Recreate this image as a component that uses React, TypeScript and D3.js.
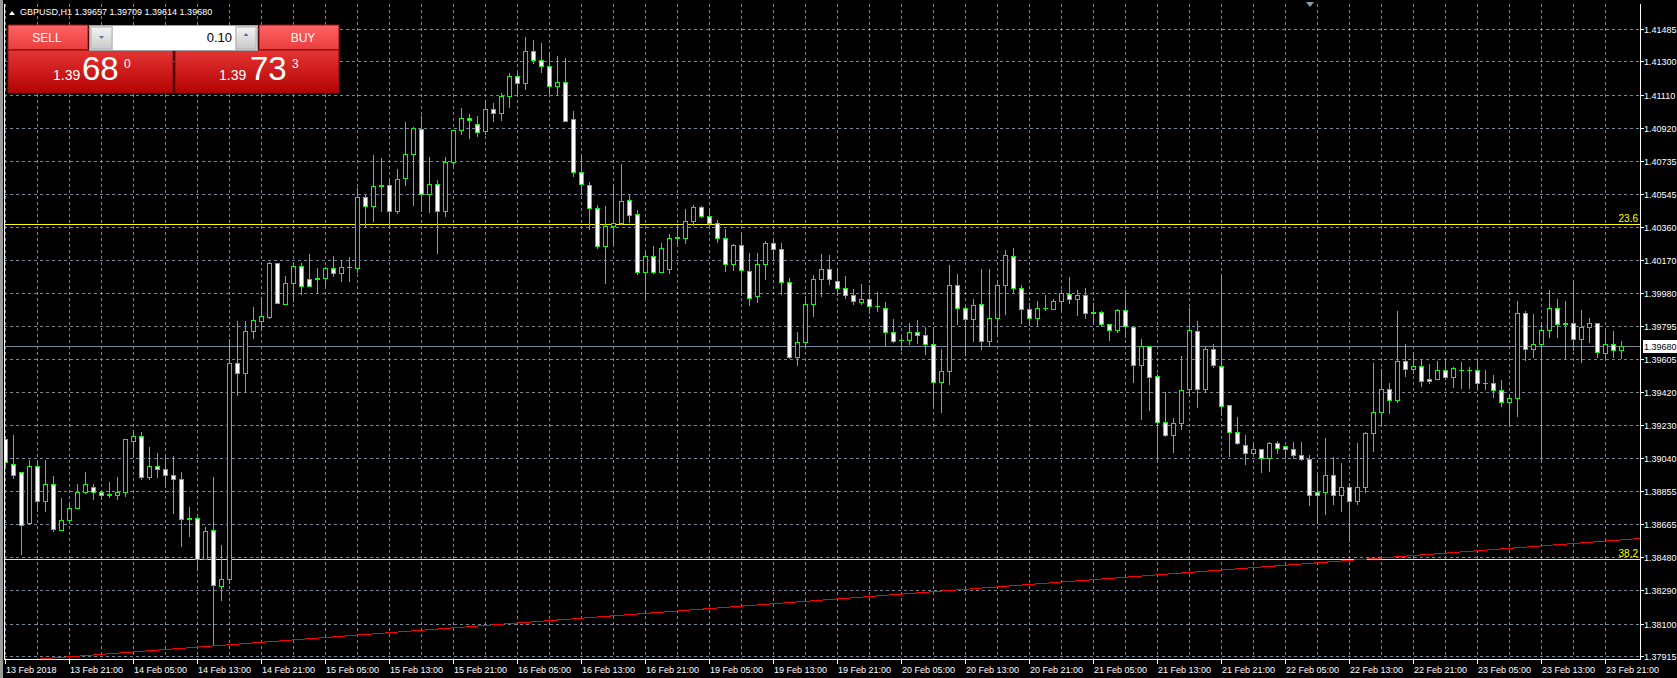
import React from 'react';
import * as d3 from 'd3';

const OPEN = [1.39148,1.39011,1.38960,1.38675,1.38994,1.38800,1.38897,1.38635,1.38692,1.38760,1.38846,1.38878,1.38851,1.38829,1.38834,1.38846,1.39142,1.39165,1.38937,1.38994,1.38977,1.38948,1.38920,1.38701,1.38703,1.38470,1.38635,1.38316,1.38356,1.39581,1.39524,1.39763,1.39820,1.39847,1.40151,1.39922,1.40037,1.40138,1.40064,1.40064,1.40070,1.40127,1.40098,1.40129,1.40127,1.40526,1.40475,1.40589,1.40594,1.40446,1.40634,1.40771,1.40915,1.40543,1.40600,1.40446,1.40725,1.40908,1.40976,1.40942,1.40902,1.41029,1.41005,1.41101,1.41216,1.41176,1.41358,1.41306,1.41272,1.41158,1.41186,1.40970,1.40673,1.40599,1.40468,1.40252,1.40366,1.40383,1.40514,1.40434,1.40103,1.40195,1.40103,1.40121,1.40297,1.40297,1.40394,1.40474,1.40423,1.40383,1.40297,1.40149,1.40257,1.40109,1.39967,1.40149,1.40269,1.40235,1.40046,1.39620,1.39704,1.39922,1.40059,1.40121,1.40053,1.40013,1.39973,1.39932,1.39950,1.39909,1.39899,1.39762,1.39717,1.39715,1.39762,1.39745,1.39694,1.39475,1.39540,1.40025,1.39899,1.39835,1.39922,1.39706,1.39837,1.40030,1.40190,1.40013,1.39893,1.39842,1.39895,1.39893,1.39939,1.39974,1.39950,1.39969,1.39872,1.39872,1.39803,1.39769,1.39883,1.39786,1.39570,1.39678,1.39507,1.39245,1.39176,1.39239,1.39433,1.39763,1.39433,1.39661,1.39564,1.39342,1.39188,1.39119,1.39068,1.39091,1.39040,1.39125,1.39108,1.39091,1.39057,1.39034,1.38846,1.38846,1.38948,1.38830,1.38880,1.38800,1.38880,1.39182,1.39307,1.39433,1.39370,1.39592,1.39547,1.39564,1.39495,1.39495,1.39541,1.39501,1.39545,1.39543,1.39541,1.39471,1.39467,1.39427,1.39359,1.39382,1.39866,1.39661,1.39689,1.39769,1.39895,1.39807,1.39809,1.39718,1.39786,1.39809,1.39638,1.39689,1.39657];
const HIGH = [1.39167,1.39172,1.38962,1.39030,1.39030,1.39030,1.38939,1.38813,1.38789,1.38893,1.38962,1.38897,1.38855,1.38908,1.38933,1.39152,1.39201,1.39188,1.39104,1.39068,1.39062,1.39053,1.38965,1.38766,1.38707,1.38650,1.38933,1.38546,1.39718,1.39822,1.39822,1.39900,1.39960,1.40161,1.40155,1.40077,1.40155,1.40151,1.40203,1.40123,1.40131,1.40195,1.40167,1.40184,1.40579,1.40545,1.40767,1.40750,1.40636,1.40687,1.40955,1.40927,1.40989,1.40756,1.40623,1.40756,1.40912,1.41035,1.41001,1.40989,1.41081,1.41064,1.41120,1.41235,1.41235,1.41438,1.41421,1.41403,1.41352,1.41331,1.41318,1.41017,1.40770,1.40613,1.40481,1.40476,1.40599,1.40719,1.40542,1.40457,1.40223,1.40252,1.40269,1.40320,1.40371,1.40459,1.40481,1.40478,1.40463,1.40400,1.40349,1.40263,1.40326,1.40212,1.40212,1.40280,1.40297,1.40269,1.40069,1.39759,1.39964,1.40082,1.40203,1.40196,1.40116,1.40078,1.40007,1.40032,1.40026,1.39987,1.39930,1.39833,1.39747,1.39810,1.39827,1.39789,1.39789,1.39662,1.40141,1.40089,1.39905,1.39945,1.40121,1.40121,1.40053,1.40224,1.40236,1.40030,1.39926,1.39935,1.39968,1.39950,1.39998,1.40071,1.39997,1.40009,1.39923,1.39877,1.39807,1.39889,1.39997,1.39790,1.39718,1.39682,1.39518,1.39416,1.39268,1.39621,1.39895,1.39822,1.39678,1.39689,1.40083,1.39345,1.39273,1.39171,1.39131,1.39095,1.39136,1.39142,1.39112,1.39131,1.39131,1.39062,1.38943,1.39159,1.39047,1.39013,1.38900,1.39127,1.39190,1.39583,1.39547,1.39467,1.39879,1.39689,1.39644,1.39604,1.39575,1.39592,1.39604,1.39558,1.39587,1.39558,1.39604,1.39541,1.39513,1.39484,1.39404,1.39934,1.39877,1.39860,1.39815,1.39997,1.39946,1.39934,1.40048,1.39883,1.39838,1.39813,1.39763,1.39763,1.39709];
const LOW = [1.38986,1.38929,1.38494,1.38669,1.38741,1.38741,1.38627,1.38631,1.38673,1.38756,1.38844,1.38810,1.38810,1.38821,1.38810,1.38827,1.39049,1.38924,1.38924,1.38935,1.38880,1.38730,1.38542,1.38599,1.38403,1.38466,1.37983,1.38234,1.38331,1.39401,1.39418,1.39727,1.39771,1.39839,1.39923,1.39918,1.39937,1.39977,1.40020,1.39990,1.40024,1.40076,1.40051,1.40051,1.40104,1.40355,1.40389,1.40450,1.40355,1.40440,1.40594,1.40484,1.40450,1.40444,1.40212,1.40421,1.40712,1.40885,1.40862,1.40873,1.40889,1.40963,1.40969,1.41043,1.41101,1.41145,1.41290,1.41242,1.41118,1.41110,1.40960,1.40647,1.40554,1.40347,1.40240,1.40039,1.40263,1.40377,1.40387,1.40092,1.39940,1.40098,1.40100,1.40098,1.40269,1.40269,1.40371,1.40415,1.40371,1.40274,1.40109,1.40115,1.39972,1.39915,1.39932,1.40064,1.40178,1.39978,1.39610,1.39572,1.39666,1.39852,1.39966,1.40034,1.39970,1.39954,1.39920,1.39920,1.39869,1.39880,1.39679,1.39705,1.39656,1.39692,1.39698,1.39633,1.39344,1.39304,1.39464,1.39804,1.39631,1.39709,1.39664,1.39681,1.39738,1.39863,1.39990,1.39812,1.39802,1.39795,1.39884,1.39892,1.39893,1.39927,1.39858,1.39841,1.39803,1.39792,1.39712,1.39758,1.39729,1.39473,1.39262,1.39313,1.39022,1.39165,1.39074,1.39205,1.39399,1.39330,1.39421,1.39558,1.39285,1.39051,1.39121,1.39011,1.39064,1.38960,1.38971,1.39068,1.39040,1.39045,1.39030,1.38772,1.38675,1.38726,1.38780,1.38740,1.38570,1.38780,1.38850,1.39083,1.39233,1.39300,1.39364,1.39511,1.39524,1.39450,1.39467,1.39490,1.39490,1.39444,1.39439,1.39439,1.39433,1.39433,1.39387,1.39336,1.39222,1.39279,1.39598,1.39615,1.39022,1.39729,1.39729,1.39604,1.39655,1.39587,1.39701,1.39615,1.39604,1.39615,1.39614];
const CLOSE = [1.39017,1.38948,1.38663,1.38999,1.38800,1.38897,1.38640,1.38692,1.38760,1.38851,1.38897,1.38851,1.38829,1.38840,1.38848,1.39148,1.39165,1.38937,1.38994,1.38977,1.38948,1.38920,1.38697,1.38697,1.38470,1.38629,1.38321,1.38356,1.39581,1.39524,1.39763,1.39826,1.39851,1.40151,1.39927,1.40037,1.40138,1.40024,1.40024,1.40070,1.40127,1.40098,1.40132,1.40132,1.40526,1.40475,1.40589,1.40594,1.40446,1.40629,1.40771,1.40921,1.40543,1.40600,1.40446,1.40725,1.40908,1.40976,1.40965,1.40896,1.41029,1.41005,1.41105,1.41216,1.41176,1.41358,1.41307,1.41272,1.41158,1.41186,1.40964,1.40668,1.40605,1.40468,1.40252,1.40366,1.40383,1.40508,1.40428,1.40103,1.40195,1.40103,1.40240,1.40297,1.40299,1.40394,1.40474,1.40423,1.40383,1.40297,1.40149,1.40257,1.40115,1.39955,1.40149,1.40269,1.40235,1.40046,1.39620,1.39705,1.39922,1.40059,1.40121,1.40059,1.40011,1.39973,1.39937,1.39950,1.39909,1.39907,1.39761,1.39709,1.39713,1.39762,1.39743,1.39692,1.39475,1.39540,1.40025,1.39899,1.39835,1.39916,1.39706,1.39837,1.40030,1.40196,1.40013,1.39893,1.39842,1.39899,1.39899,1.39939,1.39979,1.39950,1.39969,1.39870,1.39868,1.39803,1.39769,1.39883,1.39792,1.39570,1.39678,1.39501,1.39245,1.39176,1.39239,1.39427,1.39769,1.39433,1.39661,1.39570,1.39336,1.39188,1.39125,1.39068,1.39091,1.39045,1.39125,1.39102,1.39091,1.39057,1.39034,1.38834,1.38834,1.38948,1.38830,1.38880,1.38800,1.38880,1.39182,1.39302,1.39433,1.39370,1.39592,1.39547,1.39564,1.39478,1.39478,1.39541,1.39501,1.39553,1.39543,1.39541,1.39467,1.39469,1.39427,1.39359,1.39382,1.39866,1.39661,1.39689,1.39769,1.39895,1.39803,1.39809,1.39718,1.39786,1.39809,1.39644,1.39689,1.39655,1.39680];

const TIME_LABELS = ['13 Feb 2018','13 Feb 21:00','14 Feb 05:00','14 Feb 13:00','14 Feb 21:00','15 Feb 05:00','15 Feb 13:00','15 Feb 21:00','16 Feb 05:00','16 Feb 13:00','16 Feb 21:00','19 Feb 05:00','19 Feb 13:00','19 Feb 21:00','20 Feb 05:00','20 Feb 13:00','20 Feb 21:00','21 Feb 05:00','21 Feb 13:00','21 Feb 21:00','22 Feb 05:00','22 Feb 13:00','22 Feb 21:00','23 Feb 05:00','23 Feb 13:00','23 Feb 21:00'];
const LABEL_EVERY = 8;
const GRID_EVERY = 4;
const PRICE_TICKS = [1.41485,1.41300,1.41110,1.40920,1.40735,1.40545,1.40360,1.40170,1.39980,1.39795,1.39605,1.39420,1.39230,1.39040,1.38855,1.38665,1.38480,1.38290,1.38100,1.37915];
const CURRENT_PRICE = 1.39680;
const FIB_LABELS = ['23.6','38.2'];
const FIB_PRICES = [1.40373,1.38467];
const TREND_BARS = [0,202];
const TREND_PRICES = [1.37883,1.38576];
const SYMBOL = 'GBPUSD,H1';
const LOT = '0.10';
const BID = ['1.39','68','0'];
const ASK = ['1.39','73','3'];

const W = 1677, H = 678;
const PL = 4, PR = 1640, PT = 4, PB = 659;
const FONT = '"Liberation Sans", Arial, sans-serif';
const GRID = '#778899';
const LIME = '#00ff00';
const AXIS_FS = 9;

export default function App() {
  const n = OPEN.length;
  const x = d3.scaleLinear().domain([0, n - 1]).range([5, 5 + 8 * (n - 1)]);
  const y = d3.scaleLinear().domain([PRICE_TICKS[PRICE_TICKS.length - 1], PRICE_TICKS[0]]).range([656, 29]);
  const py = (p: number) => Math.round(y(p));

  const vGrid = d3.range(0, n, GRID_EVERY);
  const labelIdx = TIME_LABELS.map((_, k) => k * LABEL_EVERY);

  const tx0 = x(TREND_BARS[0]), ty0 = y(TREND_PRICES[0]);
  const tx1 = x(TREND_BARS[1]), ty1 = y(TREND_PRICES[1]);
  const slope = (ty1 - ty0) / (tx1 - tx0);
  const trendLine = d3.line<[number, number]>()([[tx0 - 10, ty0 - 10 * slope], [PR, ty0 + (PR - tx0) * slope]]);

  return (
    <svg width={W} height={H} style={{ position: 'absolute', left: 0, top: 0, display: 'block' }} fontFamily={FONT}>
      <defs>
        <clipPath id="plot"><rect x={PL} y={PT} width={PR - PL} height={PB - PT} /></clipPath>
        <linearGradient id="topG" x1="0" y1="0" x2="0" y2="1">
          <stop offset="0" stopColor="#ff6464" />
          <stop offset="1" stopColor="#e83c3c" />
        </linearGradient>
        <linearGradient id="botG" x1="0" y1="0" x2="0" y2="1">
          <stop offset="0" stopColor="#e43434" />
          <stop offset="1" stopColor="#b50303" />
        </linearGradient>
        <linearGradient id="btnG" x1="0" y1="0" x2="0" y2="1">
          <stop offset="0" stopColor="#f4f4f4" />
          <stop offset="1" stopColor="#c9c9c9" />
        </linearGradient>
      </defs>
      <rect x={0} y={0} width={W} height={H} fill="#000" />
      <rect x={0} y={0} width={3} height={H} fill="#9a9a9a" />

      <g clipPath="url(#plot)" shapeRendering="crispEdges">
        {PRICE_TICKS.map((p, k) => (
          <line key={'hg' + k} x1={PL} x2={PR} y1={py(p) + 0.5} y2={py(p) + 0.5} stroke={GRID} strokeDasharray="3,3" />
        ))}
        {vGrid.map(i => (
          <line key={'vg' + i} x1={Math.round(x(i)) + 0.5} x2={Math.round(x(i)) + 0.5} y1={PT} y2={PB} stroke={GRID} strokeDasharray="3,3" />
        ))}
        <line x1={PL} x2={PR} y1={py(CURRENT_PRICE) + 0.5} y2={py(CURRENT_PRICE) + 0.5} stroke={GRID} />
        {FIB_PRICES.map((p, k) => (
          <line key={'fib' + k} x1={PL} x2={PR} y1={py(p) + 0.5} y2={py(p) + 0.5} stroke="#ffff00" />
        ))}
        <path d={trendLine || ''} stroke="#ff0000" fill="none" shapeRendering="crispEdges" />
        {OPEN.map((o, i) => {
          const c = CLOSE[i];
          const cx = Math.round(x(i));
          const top = py(Math.max(o, c));
          const bot = py(Math.min(o, c));
          const bull = c >= o;
          return (
            <g key={'c' + i}>
              <line x1={cx + 0.5} x2={cx + 0.5} y1={py(HIGH[i])} y2={py(LOW[i]) + 1} stroke={LIME} />
              {bot - top < 1 ? (
                <line x1={cx - 2} x2={cx + 3} y1={top + 0.5} y2={top + 0.5} stroke={LIME} />
              ) : (
                <rect x={cx - 1.5} y={top + 0.5} width={4} height={bot - top} fill={bull ? '#000' : '#fff'} stroke={LIME} />
              )}
            </g>
          );
        })}
      </g>

      {FIB_PRICES.map((p, k) => (
        <text key={'fl' + k} x={PR - 2} y={py(p) - 2} textAnchor="end" fontSize={10} fill="#ffff00">{FIB_LABELS[k]}</text>
      ))}

      <g shapeRendering="crispEdges">
        <line x1={PL + 0.5} x2={PL + 0.5} y1={PT} y2={PB + 1} stroke="#fff" />
        <line x1={PR + 0.5} x2={PR + 0.5} y1={PT} y2={PB + 1} stroke="#fff" />
        <line x1={PL} x2={PR + 1} y1={PB + 0.5} y2={PB + 0.5} stroke="#fff" />
        {PRICE_TICKS.map((p, k) => (
          <line key={'yt' + k} x1={PR + 1} x2={PR + 4} y1={py(p) + 0.5} y2={py(p) + 0.5} stroke="#fff" />
        ))}
        {labelIdx.map(i => (
          <line key={'xt' + i} x1={Math.round(x(i)) + 0.5} x2={Math.round(x(i)) + 0.5} y1={PB} y2={PB + 5} stroke="#fff" />
        ))}
      </g>
      {PRICE_TICKS.map((p, k) => (
        <text key={'yl' + k} x={1644} y={py(p) + 3.5} fontSize={AXIS_FS} fill="#fff">{p.toFixed(5)}</text>
      ))}
      <rect x={1643} y={py(CURRENT_PRICE) - 6} width={34} height={13} fill="#fff" />
      <text x={1644} y={py(CURRENT_PRICE) + 3.5} fontSize={AXIS_FS} fill="#000">{CURRENT_PRICE.toFixed(5)}</text>
      {labelIdx.map((i, k) => (
        <text key={'xl' + i} x={Math.round(x(i)) + 1} y={673} fontSize={AXIS_FS} fill="#fff">{TIME_LABELS[k]}</text>
      ))}

      <path d="M9,15 L12,11 L15,15 Z" fill="#fff" />
      <text x={20} y={15} fontSize={AXIS_FS} fill="#fff">{`${SYMBOL}  ${OPEN[n - 1].toFixed(5)} ${HIGH[n - 1].toFixed(5)} ${LOW[n - 1].toFixed(5)} ${CLOSE[n - 1].toFixed(5)}`}</text>
      <path d="M1306,2 L1314,2 L1310,7 Z" fill="#8a9aa8" />

      <g>
        <rect x={8} y={25} width={80} height={25} fill="url(#topG)" stroke="#9a1010" />
        <line x1={12} x2={84} y1={49.5} y2={49.5} stroke="#a01010" />
        <text x={47} y={42} textAnchor="middle" fontSize={12} fill="#fff">SELL</text>
        <rect x={8} y={50} width={165} height={43} fill="url(#botG)" stroke="#8a0a0a" />
        <rect x={259} y={25} width={80} height={25} fill="url(#topG)" stroke="#9a1010" />
        <line x1={263} x2={335} y1={49.5} y2={49.5} stroke="#a01010" />
        <text x={303} y={42} textAnchor="middle" fontSize={12} fill="#fff">BUY</text>
        <rect x={175} y={50} width={164} height={43} fill="url(#botG)" stroke="#8a0a0a" />

        <rect x={89.5} y={25.5} width={168} height={25} fill="#dcdcdc" stroke="#a0a0a0" />
        <rect x={113} y={26} width={122} height={24} fill="#fff" />
        <rect x={91} y={27} width={21} height={22} fill="url(#btnG)" stroke="#b0b0b0" />
        <rect x={236} y={27} width={20} height={22} fill="url(#btnG)" stroke="#b0b0b0" />
        <path d="M99,36 L104,36 L101.5,39 Z" fill="#6070a0" />
        <path d="M243.5,36 L248.5,36 L246,33 Z" fill="#6070a0" />
        <text x={232} y={42} textAnchor="end" fontSize={13} fill="#000">{LOT}</text>

        <text x={53} y={80} fontSize={14} fill="#fff">{BID[0]}</text>
        <text x={82} y={80} fontSize={33} fill="#fff">{BID[1]}</text>
        <text x={124} y={68} fontSize={12} fill="#fff">{BID[2]}</text>
        <text x={219} y={80} fontSize={14} fill="#fff">{ASK[0]}</text>
        <text x={250} y={80} fontSize={33} fill="#fff">{ASK[1]}</text>
        <text x={292} y={68} fontSize={12} fill="#fff">{ASK[2]}</text>
      </g>
    </svg>
  );
}
